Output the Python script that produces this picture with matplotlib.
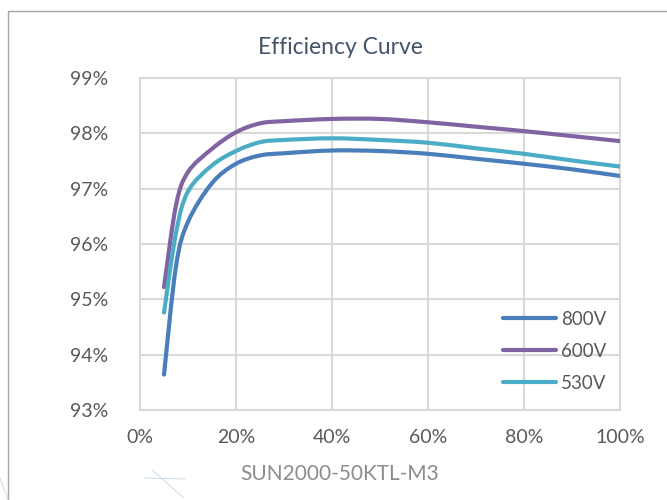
import numpy as np
import matplotlib
matplotlib.use("Agg")
import matplotlib.pyplot as plt
from matplotlib.path import Path
from matplotlib.patches import PathPatch
from matplotlib.lines import Line2D

carga = [5, 7.5, 10, 15, 20, 25, 30, 40, 50, 60, 70, 80, 90, 100]
ef_800 = [93.64, 95.6, 96.4, 97.1, 97.45, 97.6, 97.64, 97.69, 97.68, 97.63, 97.54, 97.45, 97.35, 97.23]
ef_600 = [95.22, 96.7, 97.3, 97.72, 98.02, 98.18, 98.22, 98.26, 98.26, 98.2, 98.12, 98.04, 97.95, 97.86]
ef_530 = [94.76, 96.2, 96.95, 97.42, 97.68, 97.84, 97.88, 97.91, 97.88, 97.83, 97.73, 97.63, 97.51, 97.4]

series = [("800V", ef_800, "#4a7ebb"), ("600V", ef_600, "#8064a2"), ("530V", ef_530, "#4bacc6")]

xticks = [0, 20, 40, 60, 80, 100]
yticks = [93, 94, 95, 96, 97, 98, 99]

plt.rcParams["font.family"] = ["Lato", "DejaVu Sans"]


def curva_suave(x, y):
    # bezier igual ao "linha suavizada" do Excel
    p = np.column_stack([x, y]).astype(float)
    n = len(p)
    verts = [p[0]]
    codes = [Path.MOVETO]
    for i in range(n - 1):
        p0 = p[i - 1] if i > 0 else p[i]
        p3 = p[i + 2] if i + 2 < n else p[i + 1]
        c1 = p[i] + (p[i + 1] - p0) / 6
        c2 = p[i + 1] - (p3 - p[i]) / 6
        verts += [c1, c2, p[i + 1]]
        codes += [Path.CURVE4] * 3
    return Path(verts, codes)


fig = plt.figure(figsize=(6.67, 5), dpi=100)
ax = fig.add_axes([140 / 667, 1 - 410 / 500, 480 / 667, 332 / 500])

handles = []
for nome, valores, cor in series:
    patch = PathPatch(curva_suave(carga, valores), fill=False, edgecolor=cor,
                      lw=3, capstyle="round", joinstyle="round", zorder=3)
    ax.add_patch(patch)
    handles.append(Line2D([], [], color=cor, lw=3, solid_capstyle="round", label=nome))

ax.set_xlim(0, 100)
ax.set_ylim(93, 99)
ax.set_xticks(xticks)
ax.set_yticks(yticks)
ax.set_xticklabels([f"{v}%" for v in xticks])
ax.set_yticklabels([f"{v}%" for v in yticks])
ax.tick_params(length=0, labelsize=14, labelcolor="#595959")
ax.tick_params(axis="y", pad=23)
ax.tick_params(axis="x", pad=14)
ax.grid(True, color="#d9d9d9", lw=1.5)
ax.set_axisbelow(True)
for s in ax.spines.values():
    s.set_color("#d9d9d9")
    s.set_linewidth(1.5)

fig.text(340 / 667, 1 - 47 / 500, "Efficiency Curve", ha="center", va="center",
         fontsize=16.5, color="#44546a")
fig.text(340 / 667, 1 - 474 / 500, "SUN2000-50KTL-M3", ha="center", va="center",
         fontsize=15, color="#8c8c8c")

ax.legend(handles=handles, loc="upper left", bbox_to_anchor=(503 / 667, 1 - 311 / 500),
          bbox_transform=fig.transFigure, frameon=False, fontsize=13.5,
          handlelength=2.8, handletextpad=0.3, labelspacing=0.8,
          borderpad=0, borderaxespad=0, labelcolor="#595959")

# moldura do slide
fig.add_artist(Line2D([8 / 667, 8 / 667, 1], [0, 1 - 11 / 500, 1 - 11 / 500],
                      transform=fig.transFigure, color="#a6a6a6", lw=1))
fig.add_artist(Line2D([145 / 667, 185 / 667], [1 - 478 / 500, 1 - 479 / 500],
                      transform=fig.transFigure, color="#c5d5ea", lw=0.6))
fig.add_artist(Line2D([152 / 667, 184 / 667], [1 - 470 / 500, 1 - 498 / 500],
                      transform=fig.transFigure, color="#c5d5ea", lw=0.6))
fig.add_artist(Line2D([0, 8 / 667], [1 - 478 / 500, 1 - 500 / 500],
                      transform=fig.transFigure, color="#c5d5ea", lw=0.6))

fig.savefig("out.png", dpi=100)
